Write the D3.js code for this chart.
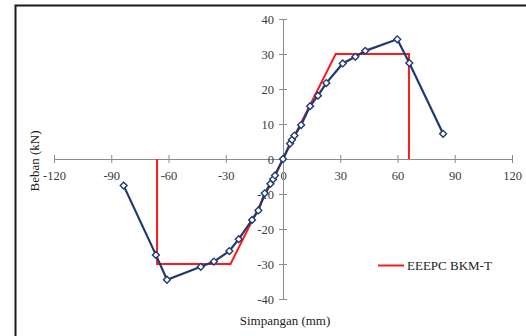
<!DOCTYPE html>
<html>
<head>
<meta charset="utf-8">
<script src="https://cdn.jsdelivr.net/npm/d3@7"></script>
<style>
  body { margin: 0; background: #fff; }
  svg { display: block; font-family: "Liberation Serif", "Times New Roman", serif; }
</style>
</head>
<body>
<div id="chart"></div>
<script>
// test data (blue curve)
var simpangan = [-83.5, -66.6, -60.8, -43.1, -36.2, -28.1, -23.2, -16.2, -12.9, -9.6, -6.6, -5.2, -4.2, 0,
                 3.7, 4.7, 6.0, 9.5, 14.2, 18.3, 22.7, 31.3, 37.9, 43.1, 59.9, 66.2, 83.9];
var beban = [-7.6, -27.4, -34.5, -30.8, -29.3, -26.3, -22.9, -17.4, -14.7, -9.8, -7.1, -5.8, -4.7, 0,
             4.4, 5.5, 6.7, 9.7, 15.1, 18.1, 21.7, 27.3, 29.2, 30.9, 34.2, 27.4, 7.2];

// EEEPC bilinear curve (red)
var eeepcX = [-66, -66, -27.5, 0, 27.6, 66, 66];
var eeepcY = [0, -30, -30, 0, 30, 30, 0];

var xTicks = [-120, -90, -60, -30, 0, 30, 60, 90, 120];
var yTicks = [-40, -30, -20, -10, 0, 10, 20, 30, 40];
var legendLabel = 'EEEPC BKM-T';

var W = 526, H = 336;
var svg = d3.select('#chart').append('svg').attr('width', W).attr('height', H);

// frame (left + top only visible)
svg.append('path')
  .attr('d', 'M15.5,336 L15.5,5.5 L526,5.5')
  .attr('fill', 'none').attr('stroke', '#1a1a1a').attr('stroke-width', 2);

var x = d3.scaleLinear().domain([-120, 120]).range([54, 512]);
var y = d3.scaleLinear().domain([-40, 40]).range([299, 19]);

var axisCol = '#8c8c8c', txtCol = '#3a3a3a';

// x axis through y=0
var gx = svg.append('g').attr('transform', 'translate(0,' + y(0) + ')')
  .call(d3.axisBottom(x).tickValues(xTicks).tickSize(0).tickFormat(d3.format('d')));
gx.select('.domain').attr('stroke', axisCol).attr('d', 'M' + x(-120) + ',0.5H' + x(120));
gx.selectAll('.tick line').attr('y1', -4).attr('y2', 4).attr('stroke', axisCol);
gx.selectAll('.tick text').attr('y', 21).attr('dy', 0).attr('fill', txtCol)
  .style('font-size', '12.5px').style('font-family', '"Liberation Serif", serif')
  .text(function(d){ return d < 0 ? '-' + Math.abs(d) : d; });

// y axis through x=0
var gy = svg.append('g').attr('transform', 'translate(' + x(0) + ',0)')
  .call(d3.axisLeft(y).tickValues(yTicks).tickSize(0));
gy.select('.domain').attr('stroke', axisCol).attr('d', 'M0.5,' + y(40) + 'V' + y(-40));
gy.selectAll('.tick line').attr('x1', -4).attr('x2', 4).attr('stroke', axisCol);
gy.selectAll('.tick text').attr('x', -9).attr('dy', '0.35em').attr('fill', txtCol)
  .style('font-size', '12.5px').style('font-family', '"Liberation Serif", serif')
  .text(function(d){ return d < 0 ? '-' + Math.abs(d) : d; });

// axis titles
svg.append('text').attr('x', 285).attr('y', 325).attr('text-anchor', 'middle')
  .attr('fill', '#222').style('font-size', '13px').text('Simpangan (mm)');
svg.append('text').attr('transform', 'translate(39,161) rotate(-90)').attr('text-anchor', 'middle')
  .attr('fill', '#222').style('font-size', '13px').text('Beban (kN)');

// red bilinear
var redData = eeepcX.map(function(v, i){ return [v, eeepcY[i]]; });
svg.append('path').datum(redData)
  .attr('d', d3.line().x(function(d){ return x(d[0]); }).y(function(d){ return y(d[1]); }))
  .attr('fill', 'none').attr('stroke', '#ff1a1a').attr('stroke-width', 2);

// blue test curve
var blueData = simpangan.map(function(v, i){ return [v, beban[i]]; });
var navy = '#1f3a6e';
svg.append('path').datum(blueData)
  .attr('d', d3.line().x(function(d){ return x(d[0]); }).y(function(d){ return y(d[1]); }))
  .attr('fill', 'none').attr('stroke', navy).attr('stroke-width', 2.2);

svg.selectAll('.pt').data(blueData).enter().append('path')
  .attr('class', 'pt')
  .attr('transform', function(d){ return 'translate(' + x(d[0]) + ',' + y(d[1]) + ')'; })
  .attr('d', d3.symbol().type(d3.symbolDiamond2).size(30))
  .attr('fill', '#fff').attr('stroke', navy).attr('stroke-width', 1.4);

// legend
svg.append('line').attr('x1', 378).attr('x2', 404).attr('y1', 265.5).attr('y2', 265.5)
  .attr('stroke', '#ff1a1a').attr('stroke-width', 2);
svg.append('text').attr('x', 407).attr('y', 270).attr('fill', '#222')
  .style('font-size', '13px').text(legendLabel);
</script>
</body>
</html>
